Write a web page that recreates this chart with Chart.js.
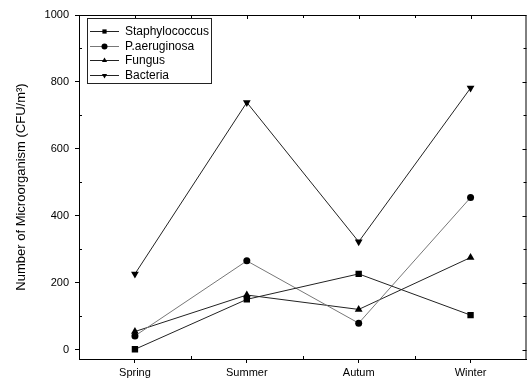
<!DOCTYPE html>
<html>
<head>
<meta charset="utf-8">
<script src="https://cdn.jsdelivr.net/npm/chart.js@4/dist/chart.umd.min.js"></script>
<style>
html,body{margin:0;padding:0;background:#fff;}
#wrap{width:531px;height:380px;position:relative;}
</style>
</head>
<body>
<div id="wrap"><canvas id="c" width="531" height="380"></canvas></div>
<script>
const seasons = ["Spring", "Summer", "Autum", "Winter"];
const staphylococcus = [2, 151, 227, 104];
const pAeruginosa = [42, 266, 80, 455];
const fungus = [55, 164, 121, 276];
const bacteria = [227, 739, 323, 782];
const yTicks = [0, 200, 400, 600, 800, 1000];
const yMinorTicks = [100, 300, 500, 700, 900];
const seriesNames = ["Staphylococcus", "P.aeruginosa", "Fungus", "Bacteria"];

const FONT = "'Liberation Sans', Arial, sans-serif";

function ds(label, data, style, rot, color) {
  return {
    label, data,
    borderColor: color, backgroundColor: '#000',
    pointBorderColor: '#000', pointBackgroundColor: '#000',
    borderWidth: 1, pointStyle: style, pointRotation: rot,
    pointRadius: style === 'rect' ? 4.5 : (style === 'circle' ? 3.5 : 4.5),
    pointBorderWidth: 0, tension: 0, fill: false
  };
}

const frameAndLegend = {
  id: 'frameAndLegend',
  afterDraw(chart) {
    const ctx = chart.ctx, a = chart.chartArea;
    const ys = chart.scales.y, xs = chart.scales.x;
    ctx.save();
    ctx.strokeStyle = '#000';
    ctx.lineWidth = 1;
    ctx.strokeRect(a.left + 0.5, a.top + 0.5, a.right - a.left - 1, a.bottom - a.top);
    ctx.beginPath();
    yMinorTicks.forEach(v => {
      const p = Math.round(ys.getPixelForValue(v)) + 0.5;
      ctx.moveTo(a.left, p); ctx.lineTo(a.left + 3, p);
      ctx.moveTo(a.right, p); ctx.lineTo(a.right - 3, p);
    });
    yTicks.forEach(v => {
      const p = Math.round(ys.getPixelForValue(v)) + 0.5;
      ctx.moveTo(a.right, p); ctx.lineTo(a.right - 4, p);
    });
    for (let i = 0; i < seasons.length - 1; i++) {
      const p = Math.round((xs.getPixelForValue(i) + xs.getPixelForValue(i + 1)) / 2) + 0.5;
      ctx.moveTo(p, a.bottom); ctx.lineTo(p, a.bottom - 3);
      ctx.moveTo(p, a.top); ctx.lineTo(p, a.top + 3);
    }
    seasons.forEach((s, i) => {
      const p = Math.round(xs.getPixelForValue(i)) + 0.5;
      ctx.moveTo(p, a.top); ctx.lineTo(p, a.top + 4);
    });
    ctx.stroke();
    // legend
    const bx = 87, by = 18, bw = 124, bh = 65;
    ctx.strokeStyle = '#222';
    ctx.strokeRect(bx + 0.5, by + 0.5, bw, bh);
    const rows = [31, 46, 60, 75];
    ctx.font = '12px ' + FONT;
    ctx.textBaseline = 'middle';
    ctx.textAlign = 'left';
    chart.data.datasets.forEach((d, i) => {
      const y = rows[i] + 0.5;
      ctx.strokeStyle = d.borderColor;
      ctx.beginPath();
      ctx.moveTo(90, y); ctx.lineTo(119, y);
      ctx.stroke();
      ctx.fillStyle = '#000';
      Chart.helpers.drawPoint(ctx, {pointStyle: d.pointStyle, rotation: d.pointRotation, radius: d.pointStyle === 'rect' ? 3 : 3, borderWidth: 0}, 104.5, y);
      ctx.fillStyle = '#000';
      ctx.fillText(d.label, 125, rows[i] + 1);
    });
    ctx.restore();
  }
};

new Chart(document.getElementById('c'), {
  type: 'line',
  data: {
    labels: seasons,
    datasets: [
      ds(seriesNames[0], staphylococcus, 'rect', 0, '#222'),
      ds(seriesNames[1], pAeruginosa, 'circle', 0, '#777'),
      ds(seriesNames[2], fungus, 'triangle', 0, '#222'),
      ds(seriesNames[3], bacteria, 'triangle', 180, '#222')
    ]
  },
  options: {
    responsive: false,
    animation: false,
    devicePixelRatio: 1,
    layout: { padding: { left: 0, top: 15, right: 3, bottom: 0 } },
    plugins: { legend: { display: false }, tooltip: { enabled: false } },
    scales: {
      x: {
        type: 'category',
        offset: true,
        afterFit(s) { s.height = 21; },
        grid: { display: true, drawOnChartArea: false, offset: false, tickLength: 4, color: '#000' },
        border: { display: true, color: '#000', width: 1 },
        ticks: { font: { family: FONT, size: 11 }, color: '#000', padding: 3, maxRotation: 0 }
      },
      y: {
        min: -27, max: 1000,
        afterFit(s) { s.width = 79; },
        afterBuildTicks(s) { s.ticks = yTicks.map(v => ({ value: v })); },
        grid: { display: true, drawOnChartArea: false, tickLength: 4, color: '#000' },
        border: { display: true, color: '#000', width: 1 },
        ticks: { font: { family: FONT, size: 11 }, color: '#000', padding: 6, callback: v => String(v) },
        title: {
          display: true,
          text: 'Number of Microorganism (CFU/m³)',
          font: { family: FONT, size: 13 },
          color: '#000',
          padding: { top: 14, bottom: 0 }
        }
      }
    }
  },
  plugins: [frameAndLegend]
});
</script>
</body>
</html>
